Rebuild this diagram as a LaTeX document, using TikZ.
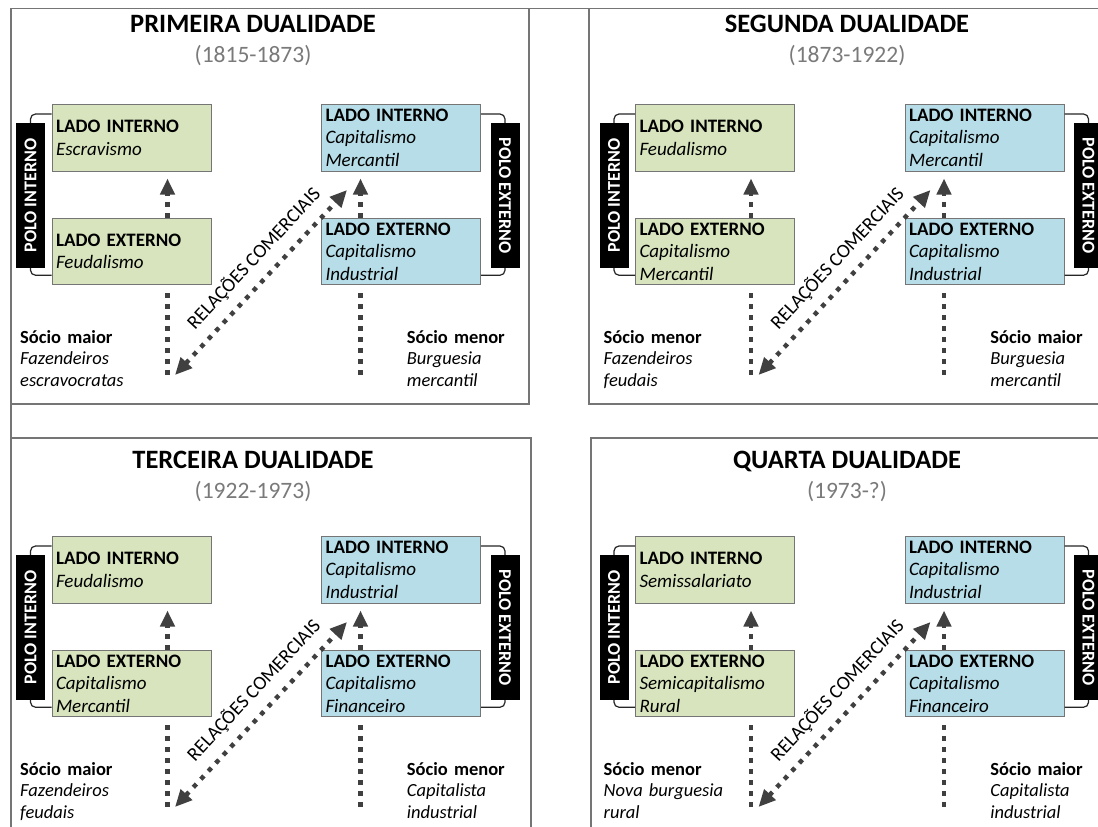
\documentclass[tikz,border=0pt]{standalone}
\usepackage{fontspec}
\setmainfont{Carlito}
\usetikzlibrary{arrows.meta}
\definecolor{gfill}{HTML}{D7E4BD}
\definecolor{bfill}{HTML}{B7DEE8}
\definecolor{bord}{HTML}{757575}
\definecolor{arr}{HTML}{404040}
\definecolor{dategray}{HTML}{7A7A7A}
\tikzset{
 frame/.style={draw=bord, line width=1.5pt},
 box/.style={draw=bord, line width=1pt, minimum width=159, minimum height=66.5, text width=151, inner xsep=4, inner ysep=0, align=left, font=\fontsize{19}{22.5}\selectfont},
 gbox/.style={box, fill=gfill},
 bbox/.style={box, fill=bfill},
 polebar/.style={fill=black, text=white, font=\bfseries\fontsize{18}{18}\selectfont, minimum width=145, minimum height=29, inner sep=0},
 brk/.style={draw=black!85, line width=1.2pt, rounded corners=5pt},
 dots/.style={draw=arr, line width=4.5pt, dash pattern=on 4.5pt off 6.5pt},
 uparr/.style={dots, -{Triangle[length=16pt,width=14pt]}},
 diag/.style={dots, {Triangle[length=17pt,width=15pt]}-{Triangle[length=17pt,width=15pt]}},
 socio/.style={anchor=base west, text width=140, inner sep=0, align=left, font=\fontsize{18.5}{21.5}\selectfont},
 dtitle/.style={anchor=base, inner sep=0, font=\bfseries\fontsize{26.5}{26.5}\selectfont},
 ddate/.style={anchor=base, inner sep=0, text=dategray, font=\fontsize{23.5}{23.5}\selectfont},
 rel/.style={font=\fontsize{19.5}{19.5}\selectfont, text=black, inner sep=1pt},
}
\newcommand{\dual}[7]{%
 \node[gbox] (#1li) at (131.5,137.75) {\textbf{LADO INTERNO}\\{\itshape #2}};
 \node[gbox] (#1le) at (131.5,251.5) {\textbf{LADO EXTERNO}\\{\itshape #3}};
 \node[bbox] (#1ri) at (401,137.75) {\textbf{LADO INTERNO}\\{\itshape #4}};
 \node[bbox] (#1re) at (401,251.5) {\textbf{LADO EXTERNO}\\{\itshape #5}};
 \coordinate (#1lb) at (30.5,195.5);
 \coordinate (#1rb) at (505,195.5);
 \draw[brk] ([yshift=-10]#1li.north west) -| (#1lb) |- ([yshift=10]#1le.south west);
 \draw[brk] ([yshift=-10]#1ri.north east) -| (#1rb) |- ([yshift=10]#1re.south east);
 \node[polebar, rotate=90] (#1lbar) at (#1lb) {POLO INTERNO};
 \node[polebar, rotate=-90] (#1rbar) at (#1rb) {POLO EXTERNO};
 \draw[uparr] ([xshift=36]#1le.north) -- ([xshift=36,yshift=-7]#1li.south);
 \draw[uparr] ([xshift=-40.5]#1re.north) -- ([xshift=-40.5,yshift=-7]#1ri.south);
 \coordinate (#1l0) at ([xshift=36,yshift=-8]#1le.south);
 \coordinate (#1l1) at ([xshift=36,yshift=-92]#1le.south);
 \coordinate (#1r0) at ([xshift=-40.5,yshift=-8]#1re.south);
 \coordinate (#1r1) at ([xshift=-40.5,yshift=-92]#1re.south);
 \draw[dots] (#1l0) -- (#1l1);
 \draw[dots] (#1r0) -- (#1r1);
 \coordinate (#1da) at (175,375);
 \coordinate (#1db) at (347,190);
 \draw[diag] (#1da) -- (#1db) node[rel, pos=0.55, sloped, above=9pt] {RELAÇÕES COMERCIAIS};
 \node[socio] (#1ls) at (20,343) {#6};
 \node[socio] (#1rs) at (406.7,343) {#7};
}
\begin{document}
\begin{tikzpicture}[x=1pt,y=-1pt]
\useasboundingbox (0,0) rectangle (1098,827);
\fill[white] (0,0) rectangle (1098,827);
% frames
\draw[frame] (11,827) -- (11,8.5) -- (1098,8.5);
\draw[frame] (11,404) -- (529,404) -- (529,8.5);
\draw[frame] (1098,404) -- (589,404) -- (589,8.5);
\draw[frame] (11,438) -- (531,438) -- (531,827);
\draw[frame] (1098,438) -- (591,438) -- (591,827);
% titles
\node[dtitle] (t1) at (253,32.8) {PRIMEIRA DUALIDADE};
\node[ddate] (d1) at (253,62.8) {(1815-1873)};
\node[dtitle] (t2) at (847,32.8) {SEGUNDA DUALIDADE};
\node[ddate] (d2) at (847,62.8) {(1873-1922)};
\node[dtitle] (t3) at (253,468.8) {TERCEIRA DUALIDADE};
\node[ddate] (d3) at (253,498.8) {(1922-1973)};
\node[dtitle] (t4) at (847,468.8) {QUARTA DUALIDADE};
\node[ddate] (d4) at (847,498.8) {(1973-?)};
% panels
\begin{scope}
\dual{a}{Escravismo}{Feudalismo}{Capitalismo\\Mercantil}{Capitalismo\\Industrial}%
 {\textbf{Sócio maior}\\\textit{Fazendeiros}\\\textit{escravocratas}}%
 {\textbf{Sócio menor}\\\textit{Burguesia}\\\textit{mercantil}}
\end{scope}
\begin{scope}[shift={(583.5,0)}]
\dual{b}{Feudalismo}{Capitalismo\\Mercantil}{Capitalismo\\Mercantil}{Capitalismo\\Industrial}%
 {\textbf{Sócio menor}\\\textit{Fazendeiros}\\\textit{feudais}}%
 {\textbf{Sócio maior}\\\textit{Burguesia}\\\textit{mercantil}}
\end{scope}
\begin{scope}[shift={(0,432)}]
\dual{c}{Feudalismo}{Capitalismo\\Mercantil}{Capitalismo\\Industrial}{Capitalismo\\Financeiro}%
 {\textbf{Sócio maior}\\\textit{Fazendeiros}\\\textit{feudais}}%
 {\textbf{Sócio menor}\\\textit{Capitalista}\\\textit{industrial}}
\end{scope}
\begin{scope}[shift={(583.5,432)}]
\dual{d}{Semissalariato}{Semicapitalismo\\Rural}{Capitalismo\\Industrial}{Capitalismo\\Financeiro}%
 {\textbf{Sócio menor}\\\textit{Nova burguesia}\\\textit{rural}}%
 {\textbf{Sócio maior}\\\textit{Capitalista}\\\textit{industrial}}
\end{scope}
\end{tikzpicture}
\end{document}
